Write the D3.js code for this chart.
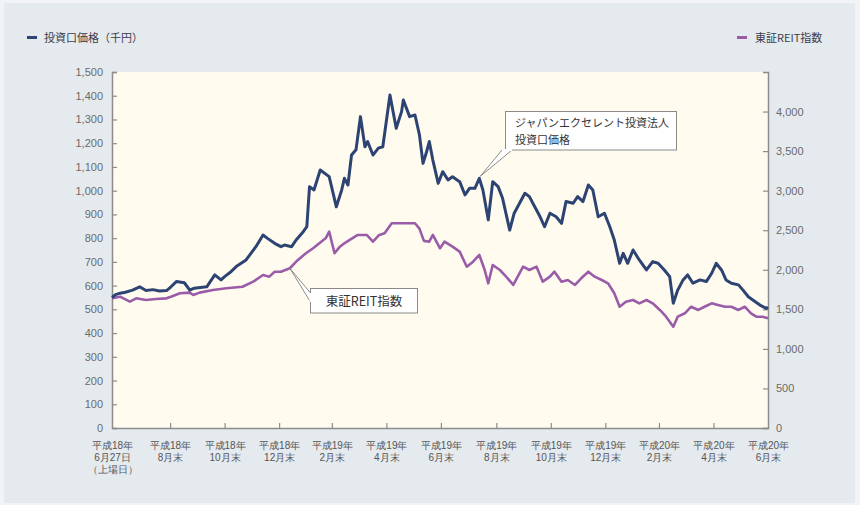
<!DOCTYPE html>
<html>
<head>
<meta charset="utf-8">
<script src="https://cdn.jsdelivr.net/npm/d3@7"></script>
<style>
body { margin: 0; background: #f1f3f6; }
svg { display: block; font-family: "Noto Sans CJK JP", "Noto Sans", sans-serif; }
</style>
</head>
<body>
<script>
// 投資口価格 (千円) - left axis
var priceSeries = [
  ["2006-06-27", 550], ["2006-07-01", 562], ["2006-07-06", 568], ["2006-07-12", 572], ["2006-07-20", 581], ["2006-07-28", 595],
  ["2006-08-04", 579], ["2006-08-12", 583], ["2006-08-19", 577], ["2006-08-27", 579], ["2006-09-01", 595], ["2006-09-07", 617],
  ["2006-09-16", 612], ["2006-09-22", 581], ["2006-09-27", 589], ["2006-10-04", 592], ["2006-10-11", 595],
  ["2006-10-20", 645], ["2006-10-27", 624], ["2006-10-31", 638], ["2006-11-06", 655], ["2006-11-13", 680],
  ["2006-11-24", 708], ["2006-12-05", 764], ["2006-12-13", 813], ["2006-12-18", 799],
  ["2006-12-26", 778], ["2007-01-02", 764], ["2007-01-06", 771], ["2007-01-14", 764],
  ["2007-01-19", 792], ["2007-01-27", 827], ["2007-01-31", 848], ["2007-02-03", 1017],
  ["2007-02-08", 1003], ["2007-02-15", 1087], ["2007-02-25", 1059], ["2007-03-05", 932],
  ["2007-03-11", 1003], ["2007-03-14", 1052], ["2007-03-18", 1024], ["2007-03-22", 1150],
  ["2007-03-27", 1172], ["2007-04-01", 1312], ["2007-04-06", 1185], ["2007-04-09", 1207],
  ["2007-04-15", 1150], ["2007-04-21", 1179], ["2007-04-26", 1185], ["2007-05-04", 1403],
  ["2007-05-11", 1263], ["2007-05-17", 1333], ["2007-05-19", 1382], ["2007-05-26", 1312],
  ["2007-06-01", 1319], ["2007-06-06", 1235], ["2007-06-10", 1115], ["2007-06-14", 1164],
  ["2007-06-17", 1207], ["2007-06-21", 1129], ["2007-06-27", 1031], ["2007-07-02", 1080],
  ["2007-07-08", 1045], ["2007-07-13", 1059], ["2007-07-21", 1038], ["2007-07-27", 982],
  ["2007-08-01", 1010], ["2007-08-07", 1010], ["2007-08-12", 1052], ["2007-08-16", 1003],
  ["2007-08-22", 877], ["2007-08-27", 1038], ["2007-09-02", 1017], ["2007-09-07", 968],
  ["2007-09-15", 834], ["2007-09-20", 905], ["2007-09-26", 947], ["2007-10-02", 989],
  ["2007-10-07", 975], ["2007-10-13", 932], ["2007-10-19", 890], ["2007-10-24", 848],
  ["2007-10-30", 905], ["2007-11-06", 890], ["2007-11-12", 862], ["2007-11-17", 954],
  ["2007-11-25", 947], ["2007-11-30", 975], ["2007-12-06", 954], ["2007-12-12", 1024],
  ["2007-12-17", 1003], ["2007-12-23", 890], ["2007-12-30", 905], ["2008-01-05", 848],
  ["2008-01-10", 792], ["2008-01-16", 694], ["2008-01-20", 736], ["2008-01-25", 694],
  ["2008-01-31", 750], ["2008-02-07", 708], ["2008-02-15", 666], ["2008-02-22", 701],
  ["2008-02-28", 694], ["2008-03-06", 666], ["2008-03-12", 638], ["2008-03-16", 526],
  ["2008-03-21", 581], ["2008-03-27", 624], ["2008-04-01", 645], ["2008-04-07", 610],
  ["2008-04-15", 624], ["2008-04-22", 617], ["2008-04-28", 652], ["2008-05-03", 694],
  ["2008-05-09", 666], ["2008-05-14", 624], ["2008-05-20", 610], ["2008-05-28", 603],
  ["2008-06-02", 581], ["2008-06-08", 553], ["2008-06-13", 539], ["2008-06-21", 518],
  ["2008-06-28", 504], ["2008-06-30", 508]
];

// 東証REIT指数 - right axis
var reitSeries = [
  ["2006-06-27", 1639], ["2006-07-06", 1660], ["2006-07-17", 1597], ["2006-07-24", 1639],
  ["2006-08-04", 1618], ["2006-08-15", 1630], ["2006-08-27", 1639], ["2006-09-01", 1660], ["2006-09-11", 1703],
  ["2006-09-22", 1711], ["2006-09-26", 1681], ["2006-10-03", 1711], ["2006-10-18", 1745],
  ["2006-11-02", 1766], ["2006-11-20", 1786], ["2006-12-02", 1850], ["2006-12-13", 1934],
  ["2006-12-20", 1913], ["2006-12-26", 1976], ["2007-01-02", 1976], ["2007-01-12", 2019],
  ["2007-01-21", 2124], ["2007-01-30", 2209], ["2007-02-07", 2272], ["2007-02-14", 2335],
  ["2007-02-21", 2398], ["2007-02-25", 2482], ["2007-03-03", 2209], ["2007-03-09", 2292],
  ["2007-03-14", 2335], ["2007-03-20", 2377], ["2007-03-29", 2440], ["2007-04-08", 2440],
  ["2007-04-15", 2355], ["2007-04-22", 2440], ["2007-04-28", 2461], ["2007-05-06", 2588],
  ["2007-05-15", 2588], ["2007-05-24", 2588], ["2007-06-01", 2588], ["2007-06-06", 2520],
  ["2007-06-11", 2365], ["2007-06-17", 2355], ["2007-06-21", 2440], ["2007-06-29", 2272],
  ["2007-07-04", 2355], ["2007-07-13", 2292], ["2007-07-21", 2229], ["2007-07-29", 2039],
  ["2007-08-05", 2102], ["2007-08-12", 2187], ["2007-08-18", 1997], ["2007-08-22", 1829],
  ["2007-08-27", 2061], ["2007-09-04", 1997], ["2007-09-11", 1913], ["2007-09-19", 1808],
  ["2007-09-22", 1871], ["2007-09-30", 2039], ["2007-10-07", 1997], ["2007-10-15", 2039],
  ["2007-10-22", 1850], ["2007-10-30", 1913], ["2007-11-04", 1976], ["2007-11-12", 1850],
  ["2007-11-19", 1871], ["2007-11-27", 1808], ["2007-12-04", 1892], ["2007-12-12", 1976],
  ["2007-12-19", 1913], ["2007-12-27", 1871], ["2008-01-03", 1829], ["2008-01-10", 1703],
  ["2008-01-16", 1533], ["2008-01-23", 1597], ["2008-01-31", 1618], ["2008-02-07", 1576],
  ["2008-02-15", 1618], ["2008-02-22", 1576], ["2008-03-01", 1492], ["2008-03-08", 1407],
  ["2008-03-16", 1281], ["2008-03-21", 1407], ["2008-03-29", 1450], ["2008-04-05", 1533],
  ["2008-04-13", 1492], ["2008-04-20", 1533], ["2008-04-28", 1576], ["2008-05-05", 1555],
  ["2008-05-13", 1533], ["2008-05-20", 1533], ["2008-05-28", 1492], ["2008-06-04", 1533],
  ["2008-06-11", 1450], ["2008-06-17", 1407], ["2008-06-24", 1407], ["2008-06-30", 1387]
];

var tickDates = ["2006-06-27", "2006-08-31", "2006-10-31", "2006-12-31", "2007-02-28", "2007-04-30",
  "2007-06-30", "2007-08-31", "2007-10-31", "2007-12-31", "2008-02-29", "2008-04-30", "2008-06-30"];
var tickLabels = [
  ["平成18年", "6月27日", "（上場日）"], ["平成18年", "8月末"], ["平成18年", "10月末"], ["平成18年", "12月末"],
  ["平成19年", "2月末"], ["平成19年", "4月末"], ["平成19年", "6月末"], ["平成19年", "8月末"],
  ["平成19年", "10月末"], ["平成19年", "12月末"], ["平成20年", "2月末"], ["平成20年", "4月末"],
  ["平成20年", "6月末"]
];
var leftTicks = d3.range(0, 1501, 100);
var rightTicks = d3.range(0, 4001, 500);

var width = 860, height = 505;
var x0 = 112, x1 = 768, yTop = 72, yBot = 428;
var parse = d3.timeParse("%Y-%m-%d");

var x = d3.scaleTime().domain([parse("2006-06-27"), parse("2008-06-30")]).range([x0, x1]);
var yL = d3.scaleLinear().domain([0, 1500]).range([yBot, yTop]);
var yR = d3.scaleLinear().domain([0, 4500]).range([yBot, yTop]);

var svg = d3.select("body").append("svg")
    .attr("width", width)
    .attr("height", height);

// panel
svg.append("rect").attr("x", 4).attr("y", 3).attr("width", 851).attr("height", 500).attr("fill", "#e5eaef");
svg.append("rect").attr("x", x0).attr("y", yTop).attr("width", x1 - x0).attr("height", yBot - yTop).attr("fill", "#fffcef");

var axisColor = "#8c8c8c", labelColor = "#6a6a6a";

var gL = svg.append("g").attr("transform", "translate(" + x0 + ",0)")
    .call(d3.axisLeft(yL).tickValues(leftTicks).tickFormat(d3.format(",")).tickSizeInner(-5).tickSizeOuter(-5).tickPadding(9));
var gR = svg.append("g").attr("transform", "translate(" + x1 + ",0)")
    .call(d3.axisRight(yR).tickValues(rightTicks).tickFormat(d3.format(",")).tickSizeInner(-5).tickSizeOuter(-5).tickPadding(8));
var gB = svg.append("g").attr("transform", "translate(0," + yBot + ")")
    .call(d3.axisBottom(x).tickValues(tickDates.map(parse)).tickFormat("").tickSizeInner(-5).tickSizeOuter(0));

[gL, gR, gB].forEach(function(g) {
  g.select(".domain").attr("stroke", axisColor).attr("stroke-width", 1.5);
  g.selectAll(".tick line").attr("stroke", axisColor).attr("stroke-width", 1.2);
  g.selectAll(".tick text").attr("fill", labelColor).attr("font-size", 11).attr("font-family", null);
});
gB.selectAll(".tick line").filter(function(d, i) { return i === 0 || i === tickDates.length - 1; }).remove();

gB.selectAll(".tick").each(function(d, i) {
  var t = d3.select(this).append("text")
      .attr("fill", "#555").attr("font-size", 10).attr("text-anchor", "middle").attr("y", 21);
  tickLabels[i].forEach(function(s, j) {
    t.append("tspan").attr("x", 0).attr("dy", j === 0 ? 0 : 12).text(s);
  });
});

// lines
var lineL = d3.line().x(function(d) { return x(parse(d[0])); }).y(function(d) { return yL(d[1]); });
var lineR = d3.line().x(function(d) { return x(parse(d[0])); }).y(function(d) { return yR(d[1]); });

var blue = "#2d4373", purple = "#9a5ca8";

svg.append("path").datum(reitSeries).attr("d", lineR)
    .attr("fill", "none").attr("stroke", purple).attr("stroke-width", 2.6).attr("stroke-linejoin", "round");
svg.append("path").datum(priceSeries).attr("d", lineL)
    .attr("fill", "none").attr("stroke", blue).attr("stroke-width", 3).attr("stroke-linejoin", "round");

// legend
svg.append("line").attr("x1", 27).attr("x2", 37).attr("y1", 37.5).attr("y2", 37.5).attr("stroke", blue).attr("stroke-width", 3);
svg.append("text").attr("x", 44).attr("y", 41.5).attr("font-size", 11).attr("fill", "#3c3c4a").text("投資口価格（千円）");
svg.append("line").attr("x1", 737).attr("x2", 747).attr("y1", 37.5).attr("y2", 37.5).attr("stroke", purple).attr("stroke-width", 3);
svg.append("text").attr("x", 755).attr("y", 41.5).attr("font-size", 11).attr("fill", "#3c3c4a").text("東証REIT指数");

// callouts
function callout(tip, base1, base2, box) {
  svg.append("path")
      .attr("d", "M" + base1 + "L" + tip + "L" + base2)
      .attr("fill", "#fff").attr("stroke", "#8a8a8a").attr("stroke-width", 1);
  svg.append("rect").attr("x", box[0]).attr("y", box[1]).attr("width", box[2]).attr("height", box[3])
      .attr("fill", "#fff").attr("stroke", "#8a8a8a").attr("stroke-width", 1);
  svg.append("path")
      .attr("d", "M" + base1 + "L" + base2)
      .attr("stroke", "#fff").attr("stroke-width", 2);
}

var tipB = [x(parse("2007-08-12")) + 1, yL(1052) - 2];
callout(tipB, [502, 150], [512, 150], [505.5, 111.5, 171, 38.5]);
var tb = svg.append("text").attr("font-size", 11).attr("fill", "#333");
tb.append("tspan").attr("x", 515).attr("y", 127).text("ジャパンエクセレント投資法人");
tb.append("tspan").attr("x", 515).attr("dy", 17).text("投資口価格");

var tipR = [x(parse("2007-01-12")), yR(2019)];
callout(tipR, [310.5, 293], [310.5, 302], [310.5, 288.5, 107, 24.5]);
svg.append("text").attr("x", 364).attr("y", 305.5).attr("text-anchor", "middle")
    .attr("font-size", 12.5).attr("fill", "#333").text("東証REIT指数");
</script>
</body>
</html>
